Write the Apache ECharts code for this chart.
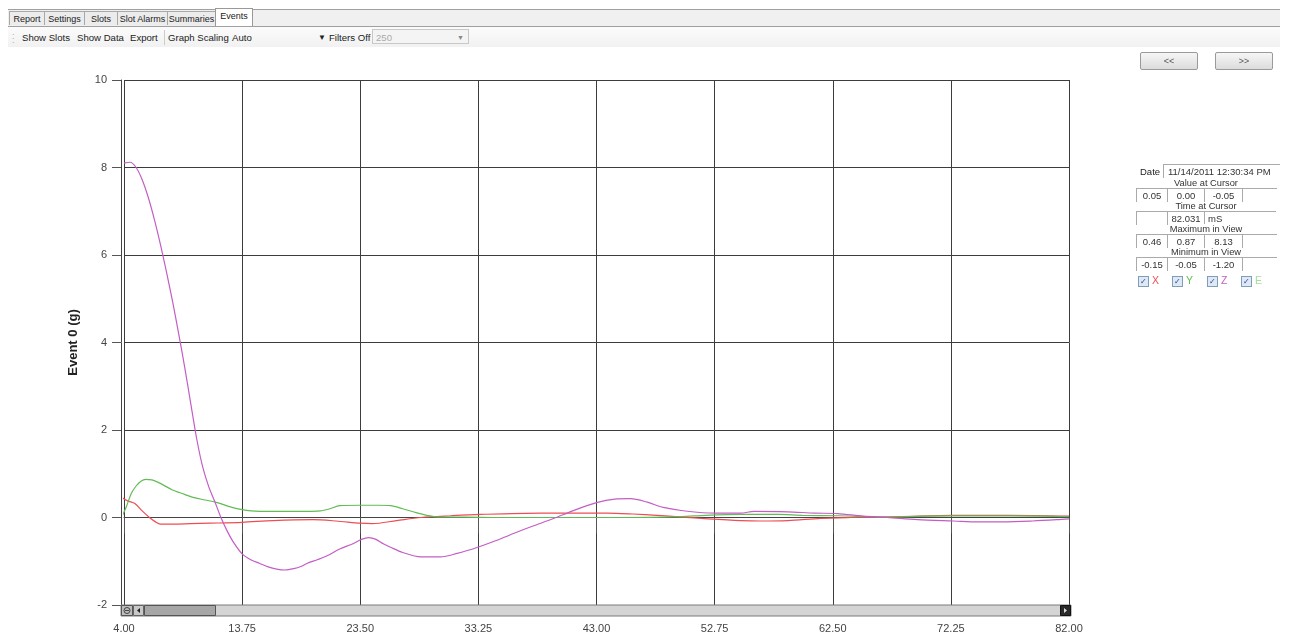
<!DOCTYPE html>
<html>
<head>
<meta charset="utf-8">
<script src="https://cdn.jsdelivr.net/npm/echarts@6/dist/echarts.min.js"></script>
<style>
  html, body { margin:0; padding:0; background:#fff; }
  body { width:1304px; height:637px; position:relative; overflow:hidden; font-family:"Liberation Sans", Arial, sans-serif; color:#222; }
  #chart { position:absolute; left:0; top:0; width:1304px; height:637px; }
  .ov { position:absolute; font-size:10px; white-space:nowrap; }
  .tabstrip { position:absolute; left:8px; top:9px; width:1272px; height:16px; background:#f0f0f0; border-top:1px solid #a0a0a0; border-bottom:1px solid #a0a0a0; }
  .tab { position:absolute; top:11px; height:14px; line-height:14px; font-size:9px; border:1px solid #a8a8a8; border-bottom:none; background:#ececec; color:#222; text-align:center; box-sizing:border-box; white-space:nowrap; overflow:hidden; }
  .tab.sel { top:8px; height:18px; line-height:15px; background:#fff; border-color:#999; }
  .toolbar { position:absolute; left:8px; top:27px; width:1272px; height:20px; background:linear-gradient(#fbfbfb,#f1f1f1); }
  .tb { position:absolute; top:32px; font-size:9.6px; color:#222; white-space:nowrap; }
  .btn { position:absolute; top:52px; width:56px; height:16px; border:1px solid #9a9a9a; border-radius:2px; background:linear-gradient(#f6f6f6,#dcdcdc); font-size:9px; text-align:center; line-height:16px; color:#555; }
  .cell { position:absolute; height:13px; line-height:13px; font-size:9.5px; text-align:center; border-left:1px solid #aaa; border-top:1px solid #aaa; color:#333; white-space:nowrap; }
  .hdr { position:absolute; font-size:9.3px; line-height:10px; height:10px; color:#333; text-align:center; width:140px; left:1136px; white-space:nowrap; }
  .chk { position:absolute; top:276px; width:9px; height:9px; border:1px solid #7f9db9; background:#dfe8f5; font-size:8px; line-height:9px; text-align:center; color:#2a3f8f; }
  .lbl { position:absolute; top:275px; font-size:10.5px; line-height:11px; }
</style>
</head>
<body>
<div id="chart"></div>

<!-- tabs -->
<div class="tabstrip"></div>
<div class="tab" style="left:9px; width:36px;">Report</div>
<div class="tab" style="left:44px; width:41px;">Settings</div>
<div class="tab" style="left:84px; width:34px;">Slots</div>
<div class="tab" style="left:117px; width:51px;">Slot Alarms</div>
<div class="tab" style="left:167px; width:49px;">Summaries</div>
<div class="tab sel" style="left:215px; width:38px;">Events</div>

<!-- toolbar -->
<div class="toolbar"></div>
<div class="tb" style="left:12px; top:30px; color:#aaa; font-size:9px; line-height:4px;">.<br>.<br>.</div>
<div class="tb" style="left:22px;">Show Slots</div>
<div class="tb" style="left:77px;">Show Data</div>
<div class="tb" style="left:130px;">Export</div>
<div class="tb" style="left:164px; top:30px; width:1px; height:15px; background:#ccc;"></div>
<div class="tb" style="left:168px;">Graph Scaling</div>
<div class="tb" style="left:232px;">Auto</div>
<div class="tb" style="left:318px; font-size:8px; top:33px;">&#9660;</div>
<div class="tb" style="left:329px;">Filters Off</div>
<div class="tb" style="left:372px; top:29px; width:97px; height:15px; border:1px solid #c8c8c8; background:#f4f4f4; color:#aaa; line-height:15px; padding-left:3px; box-sizing:border-box;">250<span style="position:absolute; right:4px; font-size:7px; color:#888;">&#9660;</span></div>

<!-- nav buttons -->
<div class="btn" style="left:1140px;">&lt;&lt;</div>
<div class="btn" style="left:1215px;">&gt;&gt;</div>

<!-- info panel -->
<div class="ov" style="left:1140px; top:165px; font-size:9.5px; line-height:13px;">Date</div>
<div class="cell" style="left:1163px; top:164px; width:112px; text-align:left; padding-left:4px;">11/14/2011 12:30:34 PM</div>
<div class="hdr" style="top:178px;">Value at Cursor</div>
<div class="cell" style="left:1136px; top:188px; width:30px;">0.05</div>
<div class="cell" style="left:1167px; top:188px; width:36px;">0.00</div>
<div class="cell" style="left:1204px; top:188px; width:37px;">-0.05</div>
<div class="cell" style="left:1242px; top:188px; width:34px;"></div>
<div class="hdr" style="top:201px;">Time at Cursor</div>
<div class="cell" style="left:1136px; top:211px; width:30px;"></div>
<div class="cell" style="left:1167px; top:211px; width:36px;">82.031</div>
<div class="cell" style="left:1204px; top:211px; width:72px; text-align:left; padding-left:3px; box-sizing:border-box;">mS</div>
<div class="hdr" style="top:224px;">Maximum in View</div>
<div class="cell" style="left:1136px; top:234px; width:30px;">0.46</div>
<div class="cell" style="left:1167px; top:234px; width:36px;">0.87</div>
<div class="cell" style="left:1204px; top:234px; width:37px;">8.13</div>
<div class="cell" style="left:1242px; top:234px; width:34px;"></div>
<div class="hdr" style="top:247px;">Minimum in View</div>
<div class="cell" style="left:1136px; top:257px; width:30px;">-0.15</div>
<div class="cell" style="left:1167px; top:257px; width:36px;">-0.05</div>
<div class="cell" style="left:1204px; top:257px; width:37px;">-1.20</div>
<div class="cell" style="left:1242px; top:257px; width:34px;"></div>

<div id="legendbox"></div>

<script>
// ---- data (time in mS, acceleration in g) ----
var xTicks = [4.00, 13.75, 23.50, 33.25, 43.00, 52.75, 62.50, 72.25, 82.00];
var yTicks = [-2, 0, 2, 4, 6, 8, 10];

var timeX = [3.8, 4.3, 4.9, 5.5, 6.1, 6.6, 7.0, 8.0, 9.5, 11.1, 13.75, 16.3, 19.6, 21.5, 23.5, 24.5, 26.5, 28.5, 31.0, 33.4, 38.4, 43.9, 46.0, 48.0, 50.0, 52.2, 54.9, 56.5, 58.8, 61.5, 64.0, 68.0, 72.5, 77.0, 82.0];
var valX  = [0.46, 0.38, 0.32, 0.15, 0.00, -0.10, -0.15, -0.15, -0.14, -0.13, -0.11, -0.07, -0.05, -0.08, -0.13, -0.14, -0.07, 0.00, 0.04, 0.07, 0.10, 0.10, 0.08, 0.05, 0.01, -0.03, -0.07, -0.08, -0.07, -0.02, 0.00, 0.02, 0.05, 0.05, 0.03];

var timeY = [3.8, 4.2, 4.6, 5.0, 5.4, 5.8, 6.3, 7.0, 8.0, 9.0, 9.7, 10.7, 11.7, 12.7, 13.75, 14.5, 15.2, 17.0, 19.0, 20.2, 21.0, 21.8, 23.5, 25.0, 26.0, 27.0, 28.0, 29.0, 29.9, 32.0, 35.0, 40.0, 45.0, 50.0, 52.0, 55.0, 58.0, 60.0, 63.0, 67.0, 70.0, 75.0, 80.0, 82.0];
var valY  = [0.00, 0.25, 0.55, 0.72, 0.83, 0.87, 0.86, 0.78, 0.63, 0.53, 0.46, 0.40, 0.34, 0.25, 0.18, 0.15, 0.14, 0.14, 0.14, 0.15, 0.20, 0.27, 0.28, 0.28, 0.27, 0.20, 0.12, 0.05, 0.01, 0.01, 0.00, 0.00, 0.00, 0.02, 0.05, 0.07, 0.07, 0.05, 0.04, 0.01, 0.03, 0.04, 0.03, 0.02];

var timeZ = [4.0, 4.5, 5.0, 5.5, 6.0, 6.5, 7.0, 7.5, 8.0, 8.5, 9.0, 9.5, 10.0, 10.5, 11.0, 11.5, 12.0, 12.5, 13.0, 13.75, 14.5, 15.2, 15.9, 16.6, 17.3, 18.0, 18.6, 19.1, 20.0, 20.8, 21.8, 22.9, 23.6, 24.2, 24.8, 25.4, 26.0, 27.0, 28.5, 30.1, 31.5, 33.2, 34.5, 36.1, 37.7, 39.4, 41.2, 43.0, 44.5, 45.8, 47.2, 48.5, 50.0, 51.3, 53.0, 54.9, 56.0, 58.8, 61.0, 62.9, 65.0, 67.0, 69.5, 72.5, 74.5, 76.6, 79.0, 81.0, 82.0];
var valZ  = [8.10, 8.12, 8.00, 7.72, 7.32, 6.82, 6.25, 5.62, 4.95, 4.22, 3.45, 2.62, 1.80, 1.15, 0.70, 0.36, 0.00, -0.30, -0.55, -0.83, -0.97, -1.05, -1.13, -1.18, -1.20, -1.17, -1.12, -1.05, -0.96, -0.87, -0.72, -0.60, -0.50, -0.46, -0.50, -0.60, -0.68, -0.80, -0.90, -0.90, -0.82, -0.68, -0.55, -0.37, -0.20, -0.03, 0.17, 0.34, 0.42, 0.43, 0.35, 0.23, 0.16, 0.12, 0.10, 0.10, 0.14, 0.13, 0.10, 0.09, 0.03, 0.00, -0.05, -0.08, -0.10, -0.10, -0.08, -0.05, -0.03];

var seriesNames = ['X', 'Y', 'Z', 'E'];
var seriesColors = ['#ee4d55', '#62bb55', '#c35ec5', '#a6dc9c'];

function pairs(t, v) { return t.map(function (x, i) { return [x, v[i]]; }); }

// legend checkboxes (HTML)
(function () {
  var lx = [1138, 1172, 1207, 1241];
  var box = document.getElementById('legendbox');
  seriesNames.forEach(function (n, i) {
    var c = document.createElement('div'); c.className = 'chk'; c.style.left = lx[i] + 'px'; c.innerHTML = '&#10003;'; box.appendChild(c);
    var l = document.createElement('div'); l.className = 'lbl'; l.style.left = (lx[i] + 14) + 'px'; l.style.color = seriesColors[i]; l.textContent = n; box.appendChild(l);
  });
})();

var chart = echarts.init(document.getElementById('chart'));
var gridLeft = 124, gridRight = 1069, gridBottomY = 605;

function lineSeries(name, t, v, color) {
  return { name: name, type: 'line', data: pairs(t, v), showSymbol: false, smooth: 0.3,
           lineStyle: { color: color, width: 1.2 }, z: 3 };
}

chart.setOption({
  animation: false,
  backgroundColor: 'transparent',
  grid: { left: gridLeft, right: 1304 - gridRight, top: 80, bottom: 637 - gridBottomY },
  xAxis: {
    type: 'value', min: xTicks[0], max: xTicks[xTicks.length - 1], interval: 9.75,
    axisLine: { show: true, lineStyle: { color: '#444', width: 1 } },
    axisTick: { show: true, length: 16, lineStyle: { color: '#555' } },
    axisLabel: { margin: 18, color: '#444', fontSize: 11, fontFamily: 'Liberation Sans',
      formatter: function (v) { return v.toFixed(2); } },
    splitLine: { show: true, lineStyle: { color: '#3c3c3c', width: 1 } }
  },
  yAxis: {
    type: 'value', min: yTicks[0], max: yTicks[yTicks.length - 1], interval: 2, offset: 3,
    name: 'Event 0 (g)', nameLocation: 'middle', nameRotate: 90, nameGap: 41,
    nameTextStyle: { fontSize: 13, fontWeight: 'bold', color: '#222', fontFamily: 'Liberation Sans' },
    axisLine: { show: true, lineStyle: { color: '#444', width: 1 } },
    axisTick: { show: true, length: 9, lineStyle: { color: '#555' } },
    axisLabel: { margin: 14, color: '#444', fontSize: 11, fontFamily: 'Liberation Sans' },
    splitLine: { show: true, lineStyle: { color: '#3c3c3c', width: 1 } }
  },
  series: [
    lineSeries('X', timeX, valX, seriesColors[0]),
    lineSeries('Y', timeY, valY, seriesColors[1]),
    lineSeries('Z', timeZ, valZ, seriesColors[2])
  ],
  graphic: [
    { type: 'rect', z: 100, shape: { x: 121, y: 605, width: 950, height: 11 }, style: { fill: '#d4d4d4', stroke: '#7a7a7a', lineWidth: 1 } },
    { type: 'rect', z: 101, shape: { x: 121.5, y: 605.5, width: 11, height: 10 }, style: { fill: '#bdbdbd', stroke: '#555', lineWidth: 1 } },
    { type: 'circle', z: 102, shape: { cx: 127, cy: 610.5, r: 3 }, style: { fill: 'none', stroke: '#444', lineWidth: 1 } },
    { type: 'line', z: 102, shape: { x1: 125, y1: 610.5, x2: 129, y2: 610.5 }, style: { stroke: '#444', lineWidth: 1 } },
    { type: 'rect', z: 101, shape: { x: 133.5, y: 605.5, width: 10, height: 10 }, style: { fill: '#c8c8c8', stroke: '#666', lineWidth: 1 } },
    { type: 'polygon', z: 102, shape: { points: [[140, 608], [140, 613], [137, 610.5]] }, style: { fill: '#222' } },
    { type: 'rect', z: 101, shape: { x: 144.5, y: 605.5, width: 71, height: 10 }, style: { fill: '#a6a6a6', stroke: '#555', lineWidth: 1 } },
    { type: 'rect', z: 101, shape: { x: 1060.5, y: 605.5, width: 10, height: 10 }, style: { fill: '#2a2a2a', stroke: '#111', lineWidth: 1 } },
    { type: 'polygon', z: 102, shape: { points: [[1064, 608], [1064, 613], [1067, 610.5]] }, style: { fill: '#ddd' } }
  ]
});
</script>
</body>
</html>
